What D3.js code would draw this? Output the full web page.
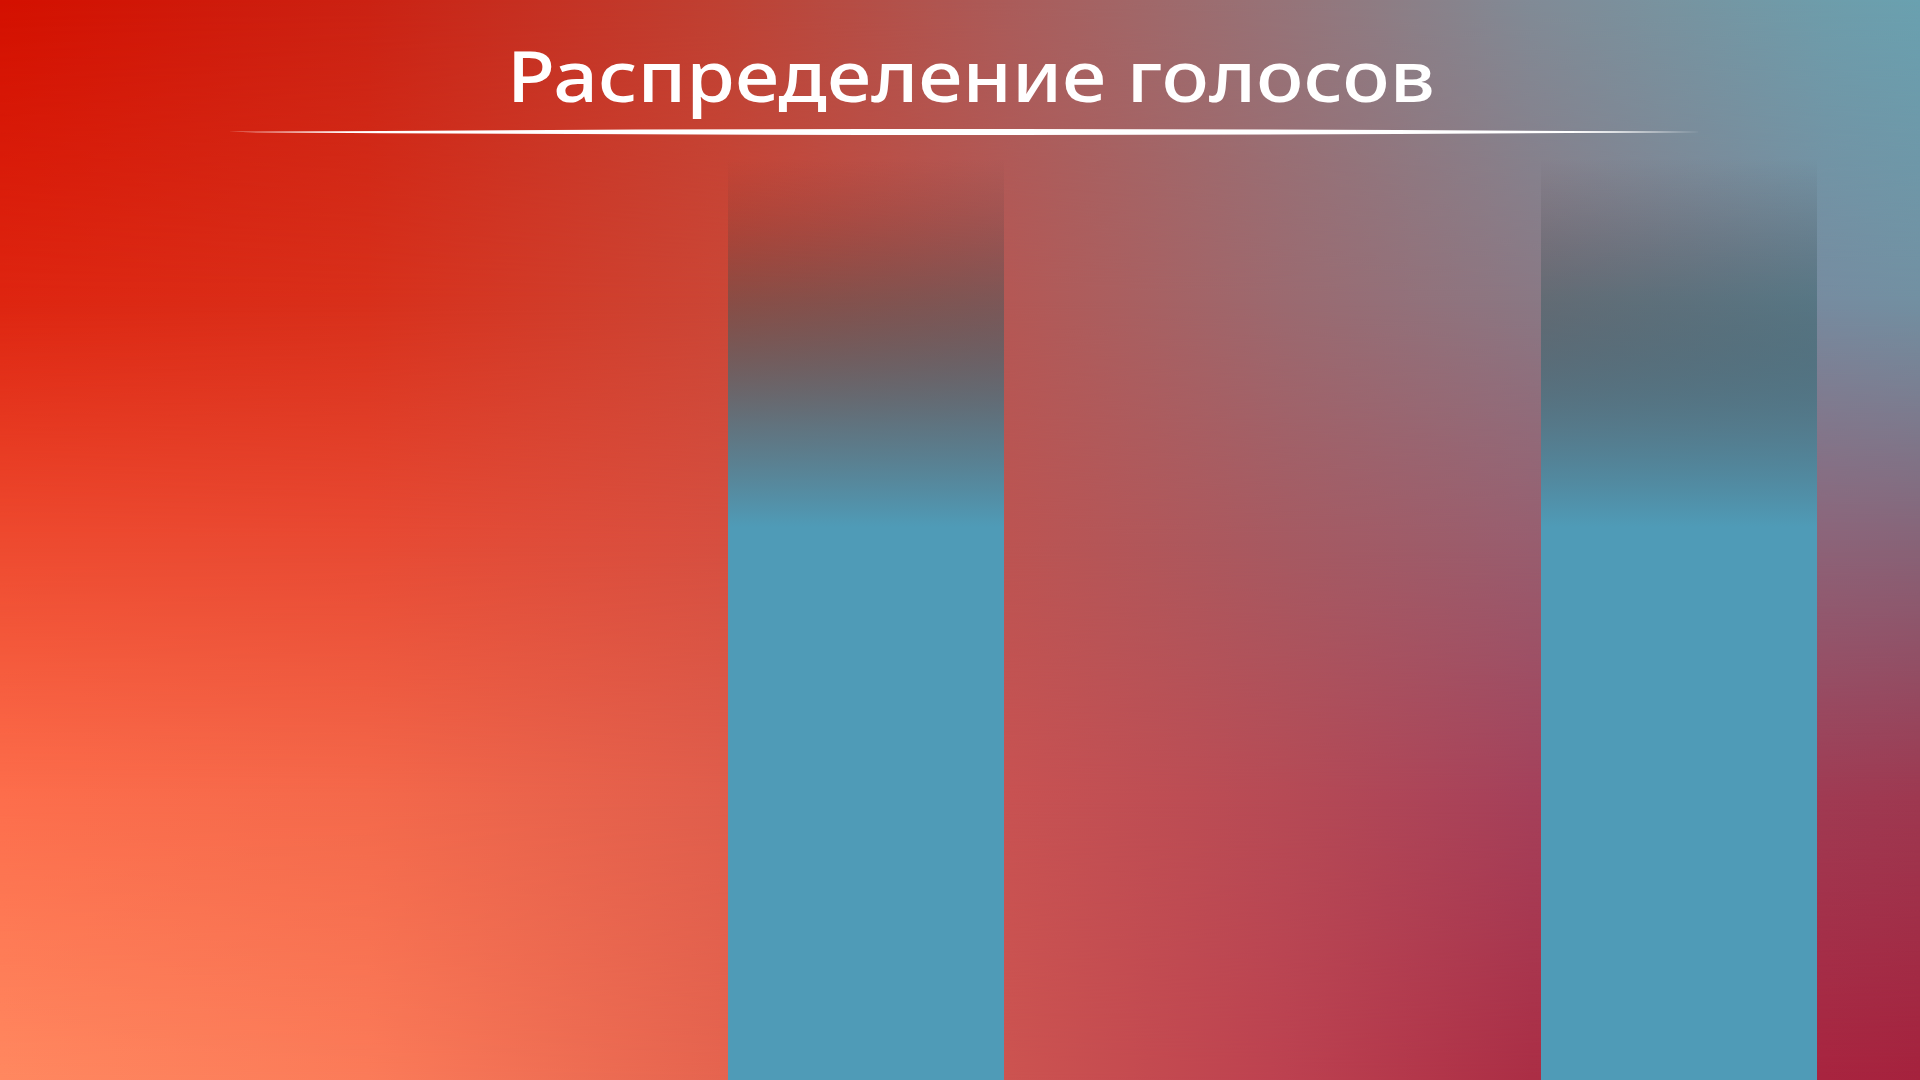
<!DOCTYPE html>
<html>
<head>
<meta charset="utf-8">
<script src="https://cdn.jsdelivr.net/npm/d3@7"></script>
<style>
html, body { margin: 0; padding: 0; overflow: hidden; background: #000; }
svg { display: block; }
</style>
</head>
<body>
<svg id="chart" width="1920" height="1080"></svg>
<script>
// ---------- data ----------
const chartTitle = "Распределение голосов";
const categories = ["Кандидат 1", "Кандидат 2"];
const values = [100, 100];
const yDomain = [0, 100];

// ---------- style config ----------
const W = 1920, H = 1080;
const bgRowsY = [0, 300, 540, 800, 1080];
const bgStopsX = [0, 367, 722, 1010, 1286, 1531, 1825, 1920];
const bgRowColors = [
  ["#d41000", "#cb2213", "#bf4133", "#ab5c5a", "#967479", "#818b96", "#6e9dab", "#6aa1b0"],
  ["#de2510", "#d8301b", "#cb4636", "#b45855", "#9b6a70", "#8a7884", "#768ca0", "#7290a2"],
  ["#ee4a2f", "#e84a33", "#d64f40", "#bc5452", "#a65a62", "#985e6f", "#8c6479", "#876478"],
  ["#fd6e4c", "#f4694b", "#e05e4c", "#c85252", "#b64a55", "#a5405a", "#a03a52", "#9e3850"],
  ["#ff8860", "#fb7b59", "#e5644f", "#cc5350", "#bc4150", "#ab2e45", "#a8243f", "#a5223d"]
];
const barStops = [
  { o: 0.000, c: "#3a3030", a: 0.0 },
  { o: 0.062, c: "#2e3a3c", a: 0.14 },
  { o: 0.149, c: "#265559", a: 0.38 },
  { o: 0.291, c: "#487c8d", a: 0.81 },
  { o: 0.400, c: "#4f9bb7", a: 1 },
  { o: 1.000, c: "#4f9bb7", a: 1 }
];

const svg = d3.select("#chart");
const defs = svg.append("defs");

// background row gradients
bgRowColors.forEach((row, k) => {
  const g = defs.append("linearGradient")
    .attr("id", "row" + k)
    .attr("gradientUnits", "userSpaceOnUse")
    .attr("x1", 0).attr("y1", 0).attr("x2", W).attr("y2", 0);
  row.forEach((c, i) => {
    g.append("stop").attr("offset", bgStopsX[i] / W).attr("stop-color", c);
  });
  if (k > 0) {
    const mg = defs.append("linearGradient")
      .attr("id", "mg" + k)
      .attr("gradientUnits", "userSpaceOnUse")
      .attr("x1", 0).attr("y1", bgRowsY[k - 1]).attr("x2", 0).attr("y2", bgRowsY[k]);
    mg.append("stop").attr("offset", 0).attr("stop-color", "#000");
    mg.append("stop").attr("offset", 1).attr("stop-color", "#fff");
    defs.append("mask")
      .attr("id", "mask" + k)
      .attr("maskUnits", "userSpaceOnUse")
      .attr("x", 0).attr("y", 0).attr("width", W).attr("height", H)
      .append("rect")
      .attr("x", 0).attr("y", 0).attr("width", W).attr("height", H)
      .attr("fill", "url(#mg" + k + ")");
  }
});

const bg = svg.append("g").attr("class", "background");
bgRowColors.forEach((row, k) => {
  const r = bg.append("rect")
    .attr("x", 0).attr("y", 0).attr("width", W).attr("height", H)
    .attr("fill", "url(#row" + k + ")");
  if (k > 0) r.attr("mask", "url(#mask" + k + ")");
});

// bar gradient
const bgGrad = defs.append("linearGradient")
  .attr("id", "barGrad")
  .attr("x1", 0).attr("y1", 0).attr("x2", 0).attr("y2", 1);
barStops.forEach(s => {
  bgGrad.append("stop")
    .attr("offset", s.o)
    .attr("stop-color", s.c)
    .attr("stop-opacity", s.a);
});

// scales
const x = d3.scaleBand()
  .domain(categories)
  .range([728, 1817])
  .paddingInner(0.6605)
  .paddingOuter(0);
const y = d3.scaleLinear()
  .domain(yDomain)
  .range([H, 158]);

svg.append("g").attr("class", "bars")
  .selectAll("rect")
  .data(values)
  .join("rect")
  .attr("x", (d, i) => x(categories[i]))
  .attr("y", d => y(d))
  .attr("width", x.bandwidth())
  .attr("height", d => y(yDomain[0]) - y(d))
  .attr("fill", "url(#barGrad)");

// title
svg.append("text")
  .attr("x", 507)
  .attr("y", 102)
  .attr("textLength", 928)
  .attr("lengthAdjust", "spacingAndGlyphs")
  .attr("font-family", "'Noto Sans', 'Open Sans', sans-serif")
  .attr("font-weight", 500)
  .attr("font-size", 71)
  .attr("fill", "#ffffff")
  .text(chartTitle);

// tapered rule under title
const lx0 = 228, lx1 = 1702, ly = 132;
const p = d3.path();
p.moveTo(lx0, ly);
p.bezierCurveTo(720, ly - 4, 1210, ly - 4, lx1, ly);
p.bezierCurveTo(1210, ly + 4, 720, ly + 4, lx0, ly);
p.closePath();
svg.append("path")
  .attr("d", p.toString())
  .attr("fill", "#ffffff");
</script>
</body>
</html>
